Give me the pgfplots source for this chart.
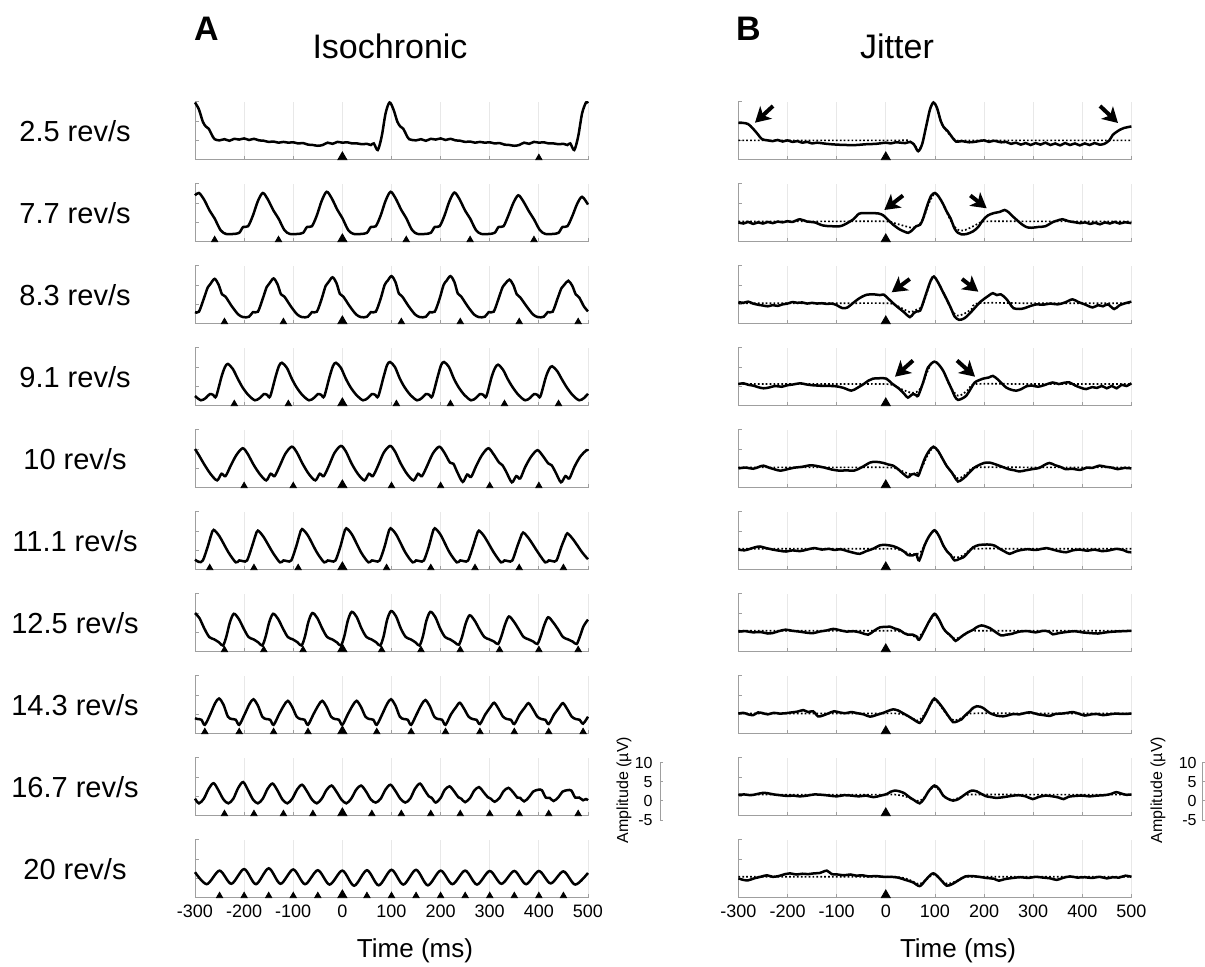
\documentclass[border=0pt]{standalone}
\usepackage{fontspec}
\setmainfont{Liberation Sans}
\usepackage{pgfplots}
\pgfplotsset{compat=1.18}
\usetikzlibrary{arrows.meta}

\pgfplotsset{
  panel/.style={
    scale only axis, width=196.5pt, height=29pt, anchor=north west,
    xmin=-300, xmax=500, ymin=-5, ymax=10,
    axis lines=left, axis line style={-, draw=gray!75, line width=0.5pt},
    xtick={-300,-200,...,500}, ytick={-5,0,5,10},
    yticklabels={},
    tick align=inside, major tick length=1.8pt,
    major tick style={draw=gray!75, line width=0.4pt},
    xmajorgrids, major grid style={draw=gray!18, line width=0.4pt},
    /pgf/number format/assume math mode=true,
    xticklabel style={font=\fontsize{9}{10}\selectfont},
    clip=false,
  },
  nolab/.style={xticklabels={}},
  wave/.style={black, line width=1.25pt, smooth, no markers},
  model/.style={black, line width=0.85pt, dash pattern=on 0.85pt off 1.1pt, smooth, no markers},
  stim/.style={only marks, mark=triangle*, mark size=1.8pt, black},
  stimbig/.style={only marks, mark=triangle*, mark size=2.6pt, black},
}

\begin{document}
\begin{tikzpicture}
\useasboundingbox (0,0) rectangle (602.5pt,-483.5pt);

% ---------------- column A: isochronic ----------------
\begin{axis}[panel, nolab, at={(97.5pt,-50.85pt)}]
\addplot[wave] coordinates {
(-300,9.8) (-292,8.0) (-284,4.8) (-278,3.6) (-272,3.0) (-266,1.5) (-260,0.3) (-250,0.0) (-240,0.3) (-230,-0.1)
(-220,0.4) (-210,0.2) (-200,0.5) (-190,0.1) (-180,0.4) (-170,0.0) (-160,-0.1) (-150,-0.4) (-140,-0.3) (-130,-0.6)
(-120,-0.4) (-110,-0.6) (-100,-0.5) (-90,-0.8) (-80,-0.7) (-70,-1.1) (-60,-1.2) (-50,-1.4) (-40,-1.2) (-30,-0.6)
(-20,-0.9) (-10,-0.4) (0,-0.6) (10,-0.5) (20,-0.8) (30,-0.8) (40,-1.0) (50,-0.9) (58,-1.2) (64,-0.8) (72,-2.5)
(80,1.0) (88,7.0) (96,9.8) (104,8.0) (112,4.8) (118,3.6) (124,3.0) (130,1.5) (136,0.3) (150,0.0) (160,0.3)
(170,-0.1) (180,0.4) (190,0.2) (200,0.5) (210,0.1) (220,0.4) (230,0.0) (240,-0.1) (250,-0.4) (260,-0.3)
(270,-0.6) (280,-0.4) (290,-0.6) (300,-0.5) (310,-0.8) (320,-0.7) (330,-1.1) (340,-1.2) (350,-1.4) (360,-1.2)
(370,-0.6) (380,-0.9) (390,-0.4) (400,-0.6) (410,-0.5) (420,-0.8) (430,-0.8) (440,-1.0) (450,-0.9) (458,-1.2)
(464,-0.8) (472,-2.5) (480,1.0) (488,7.0) (496,9.8) (500,9.6)};
\addplot[stimbig] coordinates {(0,-4.33)};
\addplot[stim] coordinates {(400,-4.53)};
\end{axis}

\begin{axis}[panel, nolab, at={(97.5pt,-91.85pt)}]
\addplot[wave] coordinates {
(-300,7.0) (-292,7.6) (-282,6.0) (-270,3.0) (-260,1.0) (-248,-2.0) (-237,-3.0) (-222,-3.0) (-210,-2.7) (-202,-1.2) (-192,-1.0) (-182,1.8) (-172,5.5)
(-162,7.6) (-152,6.0) (-140,3.0) (-130,1.0) (-118,-2.0) (-107,-3.0) (-92,-3.0) (-80,-2.7) (-72,-1.2) (-62,-1.0) (-52,1.8) (-42,5.6)
(-32,7.9) (-22,6.3) (-10,3.2) (0,1.1) (12,-2.0) (23,-3.0) (38,-3.0) (50,-2.7) (58,-1.2) (68,-1.0) (78,1.8) (88,5.6)
(98,7.9) (108,6.3) (120,3.2) (130,1.1) (142,-2.0) (153,-3.0) (168,-3.0) (180,-2.7) (188,-1.2) (198,-1.0) (208,1.8) (218,5.5)
(228,7.7) (238,6.1) (250,3.0) (260,1.0) (272,-2.0) (283,-3.0) (298,-3.0) (310,-2.7) (318,-1.2) (328,-1.0) (338,1.8) (348,5.0)
(358,7.0) (368,5.5) (380,2.8) (390,0.8) (402,-2.0) (413,-3.0) (428,-3.0) (440,-2.7) (448,-1.2) (458,-1.0) (468,1.6) (478,4.8)
(488,6.6) (500,4.6)};
\addplot[stimbig] coordinates {(0,-4.33)};
\addplot[stim] coordinates {(-260,-4.53) (-130,-4.53) (130,-4.53) (260,-4.53) (390,-4.53)};
\end{axis}

\begin{axis}[panel, nolab, at={(97.5pt,-132.85pt)}]
\addplot[wave] coordinates {
(-300,-2.0) (-292,-1.9) (-282,1.5) (-274,4.4) (-268,5.4)
(-260,6.6) (-252,5.1) (-245,2.6) (-238,2.0) (-225,-0.5) (-212,-2.6) (-202,-3.3) (-190,-3.2) (-182,-2.0) (-172,-1.9) (-162,1.5) (-154,4.5) (-148,5.5)
(-140,6.7) (-132,5.2) (-125,2.6) (-118,2.0) (-105,-0.5) (-92,-2.6) (-82,-3.3) (-70,-3.2) (-62,-2.0) (-52,-1.9) (-42,1.5) (-34,4.8) (-28,5.8)
(-20,7.0) (-12,5.5) (-5,2.7) (2,2.0) (15,-0.5) (28,-2.6) (38,-3.3) (50,-3.2) (58,-2.0) (68,-1.9) (78,1.5) (86,5.0) (92,6.1)
(100,7.3) (108,5.8) (115,2.8) (122,2.0) (135,-0.5) (148,-2.6) (158,-3.3) (170,-3.2) (178,-2.0) (188,-1.9) (198,1.5) (206,5.0) (212,6.1)
(220,7.3) (228,5.8) (235,2.8) (242,2.0) (255,-0.5) (268,-2.6) (278,-3.3) (290,-3.2) (298,-2.0) (308,-1.9) (318,1.5) (326,4.4) (332,5.4)
(340,6.4) (348,5.0) (355,2.6) (362,1.8) (375,-0.5) (388,-2.6) (398,-3.3) (410,-3.2) (418,-2.0) (428,-1.9) (438,1.5) (446,4.2) (452,5.1)
(460,6.1) (468,4.8) (475,2.6) (482,1.8) (492,-0.6) (500,-1.8)};
\addplot[stimbig] coordinates {(0,-4.33)};
\addplot[stim] coordinates {(-240,-4.53) (-120,-4.53) (120,-4.53) (240,-4.53) (360,-4.53) (480,-4.53)};
\end{axis}

\begin{axis}[panel, nolab, at={(97.5pt,-173.85pt)}]
\addplot[wave] coordinates {
(-300,-2.5) (-288,-3.6) (-278,-3.0) (-270,-2.0) (-263,-2.2) (-257,-2.6) (-246,2.5) (-239,5.0)
(-233,5.8) (-223,4.5) (-213,2.0) (-203,-0.3) (-191,-2.3) (-178,-3.6) (-168,-3.0) (-160,-2.0) (-153,-2.2) (-147,-2.6) (-136,2.5) (-129,5.3)
(-123,6.1) (-113,4.8) (-103,2.0) (-93,-0.3) (-81,-2.3) (-68,-3.6) (-58,-3.0) (-50,-2.0) (-43,-2.2) (-37,-2.6) (-26,2.5) (-19,5.3)
(-13,6.1) (-3,4.8) (7,2.0) (17,-0.3) (29,-2.3) (42,-3.6) (52,-3.0) (60,-2.0) (67,-2.2) (73,-2.6) (84,2.5) (91,5.5)
(97,6.3) (107,5.0) (117,2.0) (127,-0.3) (139,-2.3) (152,-3.6) (162,-3.0) (170,-2.0) (177,-2.2) (183,-2.6) (194,2.5) (201,5.5)
(207,6.3) (217,5.0) (227,2.0) (237,-0.3) (249,-2.3) (262,-3.6) (272,-3.0) (280,-2.0) (287,-2.2) (293,-2.6) (304,2.5) (311,4.8)
(317,5.6) (327,4.3) (337,1.8) (347,-0.3) (359,-2.3) (372,-3.6) (382,-3.0) (390,-2.0) (397,-2.2) (403,-2.6) (414,2.3) (421,4.5)
(427,5.2) (437,4.0) (447,1.8) (457,-0.3) (469,-2.3) (482,-3.6) (492,-3.0) (500,-1.9)};
\addplot[stimbig] coordinates {(0,-4.33)};
\addplot[stim] coordinates {(-220,-4.53) (-110,-4.53) (110,-4.53) (220,-4.53) (330,-4.53) (440,-4.53)};
\end{axis}

\begin{axis}[panel, nolab, at={(97.5pt,-214.85pt)}]
\addplot[wave] coordinates {
(-300,5.0) (-293,3.6) (-281,1.0) (-268,-1.5) (-255,-3.1) (-246,-1.4) (-238,-2.0) (-228,0.5) (-216,3.4)
(-203,5.2) (-193,3.8) (-181,1.0) (-168,-1.5) (-155,-3.1) (-146,-1.4) (-138,-2.0) (-128,0.5) (-116,3.8)
(-103,5.6) (-93,4.2) (-81,1.2) (-68,-1.5) (-55,-3.1) (-46,-1.4) (-38,-2.0) (-28,0.5) (-16,4.0)
(-3,5.8) (7,4.4) (19,1.2) (32,-1.5) (45,-3.1) (54,-1.4) (62,-2.0) (72,0.5) (84,4.0)
(97,5.8) (107,4.4) (119,1.2) (132,-1.5) (145,-3.1) (154,-1.4) (162,-2.0) (172,0.5) (184,3.8)
(197,5.6) (207,4.2) (219,1.5) (226,1.2) (234,-1.0) (245,-3.5) (254,-1.6) (262,-2.2) (272,0.5) (284,3.4)
(297,5.2) (307,3.8) (319,1.5) (326,0.8) (334,-1.0) (345,-3.6) (354,-2.0) (362,-2.6) (372,0.3) (384,3.0)
(397,4.7) (407,3.4) (419,1.3) (426,0.8) (434,-1.0) (445,-3.6) (454,-2.0) (462,-2.6) (472,0.3) (484,3.0)
(497,4.7) (500,4.5)};
\addplot[stimbig] coordinates {(0,-4.33)};
\addplot[stim] coordinates {(-200,-4.53) (-100,-4.53) (100,-4.53) (200,-4.53) (300,-4.53) (400,-4.53)};
\end{axis}

\begin{axis}[panel, nolab, at={(97.5pt,-255.85pt)}]
\addplot[wave] coordinates {
(-300,-2.4) (-292,-3.0) (-284,-2.6) (-274,1.0) (-267,4.0)
(-262,5.3) (-250,3.6) (-232,-0.5) (-217,-3.1) (-210,-2.6) (-202,-2.8) (-194,-2.6) (-184,1.0) (-177,3.8)
(-172,5.1) (-160,3.4) (-142,-0.5) (-127,-3.1) (-120,-2.6) (-112,-2.8) (-104,-2.6) (-94,1.0) (-87,4.1)
(-82,5.5) (-70,3.8) (-52,-0.5) (-37,-3.1) (-30,-2.6) (-22,-2.8) (-14,-2.6) (-4,1.0) (3,4.3)
(8,5.7) (20,4.0) (38,-0.5) (53,-3.1) (60,-2.6) (68,-2.8) (76,-2.6) (86,1.0) (93,4.3)
(98,5.7) (110,4.0) (128,-0.5) (143,-3.1) (150,-2.6) (158,-2.8) (166,-2.6) (176,1.0) (183,4.3)
(188,5.7) (200,4.0) (218,-0.5) (233,-3.1) (240,-2.6) (248,-2.8) (256,-2.6) (266,1.0) (273,3.8)
(278,5.1) (290,3.4) (308,-0.5) (323,-3.1) (330,-2.6) (338,-2.8) (346,-2.6) (356,1.0) (363,3.4)
(368,4.6) (380,3.0) (398,-0.5) (413,-3.1) (420,-2.6) (428,-2.8) (436,-2.6) (446,1.0) (453,3.2)
(458,4.4) (470,2.8) (488,-0.5) (500,-2.3)};
\addplot[stimbig] coordinates {(0,-4.33)};
\addplot[stim] coordinates {(-270,-4.53) (-180,-4.53) (-90,-4.53) (90,-4.53) (180,-4.53) (270,-4.53) (360,-4.53) (450,-4.53)};
\end{axis}

\begin{axis}[panel, nolab, at={(97.5pt,-296.85pt)}]
\addplot[wave] coordinates {
(-300,5.0) (-291,3.7) (-281,1.0) (-271,-1.2) (-261,-1.8) (-251,-2.6) (-243,-3.4) (-236,-1.0) (-229,2.6)
(-221,4.8) (-211,3.5) (-201,1.0) (-191,-1.2) (-181,-1.8) (-171,-2.6) (-163,-3.4) (-156,-1.0) (-149,2.6)
(-141,4.8) (-131,3.5) (-121,1.0) (-111,-1.2) (-101,-1.8) (-91,-2.6) (-83,-3.4) (-76,-1.0) (-69,2.8)
(-61,5.0) (-51,3.7) (-41,1.0) (-31,-1.2) (-21,-1.8) (-11,-2.6) (-3,-3.4) (4,-1.0) (11,3.0)
(19,5.3) (29,4.0) (39,1.0) (49,-1.2) (59,-1.8) (69,-2.6) (77,-3.4) (84,-1.0) (91,3.2)
(99,5.5) (109,4.2) (119,1.0) (129,-1.2) (139,-1.8) (149,-2.6) (157,-3.4) (164,-1.0) (171,3.0)
(179,5.3) (189,4.0) (199,1.0) (209,-1.2) (219,-1.8) (229,-2.6) (237,-3.2) (244,-1.0) (251,2.3)
(259,4.4) (269,3.1) (279,0.8) (289,-1.2) (299,-1.8) (309,-2.4) (317,-3.0) (324,-0.9) (331,2.0)
(339,4.1) (349,2.8) (359,0.8) (369,-1.2) (379,-1.8) (389,-2.4) (397,-3.0) (404,-0.9) (411,1.9)
(419,3.9) (429,2.6) (439,0.8) (449,-1.2) (459,-1.8) (469,-2.4) (477,-3.0) (484,-0.9) (491,1.6)
(500,3.3)};
\addplot[stimbig] coordinates {(0,-4.33)};
\addplot[stim] coordinates {(-240,-4.53) (-160,-4.53) (-80,-4.53) (80,-4.53) (160,-4.53) (240,-4.53) (320,-4.53) (400,-4.53) (480,-4.53)};
\end{axis}

\begin{axis}[panel, nolab, at={(97.5pt,-337.85pt)}]
\addplot[wave] coordinates {
(-300,-1.0) (-295,-1.2) (-287,-1.4) (-280,-2.7) (-269,0.0) (-259,2.9)
(-251,4.1) (-242,2.5) (-233,-0.6) (-225,-1.2) (-217,-1.4) (-210,-2.7) (-199,0.0) (-189,2.7)
(-181,3.9) (-172,2.3) (-163,-0.6) (-155,-1.2) (-147,-1.4) (-140,-2.7) (-129,0.0) (-119,2.3)
(-111,3.5) (-102,1.9) (-93,-0.6) (-85,-1.2) (-77,-1.4) (-70,-2.7) (-59,0.0) (-49,2.3)
(-41,3.5) (-32,1.9) (-23,-0.6) (-15,-1.2) (-7,-1.4) (0,-2.7) (11,0.0) (21,2.3)
(29,3.5) (38,1.9) (47,-0.6) (55,-1.2) (63,-1.4) (70,-2.7) (81,0.0) (91,2.7)
(99,3.9) (108,2.3) (117,-0.6) (125,-1.2) (133,-1.4) (140,-2.7) (151,0.0) (161,2.5)
(169,3.7) (178,2.1) (187,-0.6) (195,-1.2) (203,-1.4) (210,-2.7) (221,0.0) (231,1.8)
(239,3.0) (248,1.4) (257,-0.6) (265,-1.2) (273,-1.4) (280,-2.5) (291,0.0) (301,1.8)
(309,3.0) (318,1.4) (327,-0.6) (335,-1.2) (343,-1.4) (350,-2.5) (361,0.0) (371,1.7)
(379,2.9) (388,1.3) (397,-0.6) (405,-1.2) (413,-1.4) (420,-2.5) (431,0.0) (441,1.7)
(449,2.9) (458,1.3) (467,-0.6) (475,-1.2) (483,-1.4) (490,-2.4) (500,-0.6)};
\addplot[stimbig] coordinates {(0,-4.33)};
\addplot[stim] coordinates {(-280,-4.53) (-210,-4.53) (-140,-4.53) (-70,-4.53) (70,-4.53) (140,-4.53) (210,-4.53) (280,-4.53) (350,-4.53) (420,-4.53) (490,-4.53)};
\end{axis}

\begin{axis}[panel, nolab, at={(97.5pt,-378.85pt)}]
\addplot[wave] coordinates {
(-300,-0.6) (-292,-1.8) (-282,-0.6) (-272,2.0)
(-262,3.4) (-252,1.5) (-242,-0.8) (-232,-1.8) (-222,-0.6) (-212,2.2)
(-202,3.7) (-192,1.6) (-182,-0.8) (-172,-1.8) (-162,-0.6) (-152,2.0)
(-142,3.3) (-132,1.5) (-122,-0.8) (-112,-1.8) (-102,-0.6) (-92,1.8)
(-82,3.0) (-72,1.3) (-62,-0.8) (-52,-1.8) (-42,-0.6) (-32,1.7)
(-22,2.8) (-12,1.2) (-2,-0.8) (8,-1.8) (18,-0.6) (28,1.7)
(38,2.8) (48,1.3) (58,-0.8) (68,-1.6) (78,-0.6) (88,1.8)
(98,3.0) (108,1.4) (118,-0.6) (128,-1.6) (138,-0.6) (148,2.0)
(158,3.3) (168,1.5) (176,0.0) (182,-0.4) (190,-1.6) (200,-0.4) (208,1.6)
(218,2.6) (228,1.2) (236,-0.2) (242,-0.6) (250,-1.5) (260,-0.4) (268,1.4)
(278,2.4) (288,1.0) (296,-0.2) (302,-0.6) (310,-1.4) (320,-0.4) (328,1.3)
(338,2.2) (348,1.0) (356,-0.3) (362,-0.4) (370,-1.3) (380,-0.2) (388,1.2)
(398,1.7) (406,1.6) (414,-0.3) (422,-0.4) (430,-1.2) (440,-0.2) (448,1.2)
(458,1.6) (466,1.5) (474,-0.3) (482,-0.3) (490,-1.0) (496,-0.7) (500,-1.0)};
\addplot[stimbig] coordinates {(0,-4.33)};
\addplot[stim] coordinates {(-240,-4.53) (-180,-4.53) (-120,-4.53) (-60,-4.53) (60,-4.53) (120,-4.53) (180,-4.53) (240,-4.53) (300,-4.53) (360,-4.53) (420,-4.53) (480,-4.53)};
\end{axis}

\begin{axis}[panel, at={(97.5pt,-419.85pt)}]
\addplot[wave] coordinates {
(-300,1.6) (-276,-1.5) (-250,2.0) (-226,-1.4) (-200,2.4) (-176,-1.5) (-150,2.6) (-126,-1.4) (-100,2.3) (-76,-1.5)
(-50,2.1) (-26,-1.6) (0,2.0) (24,-1.9) (50,2.1) (74,-1.8) (100,2.2) (124,-1.6) (150,2.2) (174,-1.8) (200,2.0)
(224,-1.5) (250,2.0) (274,-1.6) (300,1.9) (324,-1.4) (350,1.9) (374,-1.5) (400,1.9) (424,-1.3) (450,1.8)
(474,-1.6) (500,1.4)};
\addplot[stimbig] coordinates {(0,-4.33)};
\addplot[stim] coordinates {(-250,-4.53) (-200,-4.53) (-150,-4.53) (-100,-4.53) (-50,-4.53) (50,-4.53) (100,-4.53) (150,-4.53) (200,-4.53) (250,-4.53) (300,-4.53) (350,-4.53) (400,-4.53) (450,-4.53)};
\end{axis}

% ---------------- column B: jitter ----------------
\begin{axis}[panel, nolab, at={(369.2pt,-50.85pt)}]
\addplot[wave] coordinates {
(-300,4.5) (-290,4.5) (-280,4.2) (-270,3.0) (-260,1.5) (-252,0.3) (-240,0.0) (-230,-0.2) (-220,0.1) (-210,-0.3)
(-200,0.0) (-190,-0.4) (-180,-0.2) (-170,-0.6) (-160,-0.4) (-150,-0.8) (-140,-0.6) (-120,-0.9) (-100,-1.1) (-80,-1.2)
(-60,-1.2) (-40,-1.0) (-20,-0.9) (0,-0.6) (10,-0.8) (20,-0.5) (30,-0.6) (40,-0.7) (50,-0.4) (58,-1.2) (66,-2.8)
(74,-1.0) (82,3.5) (90,8.0) (97,9.8) (104,8.5) (112,5.0) (118,3.4) (126,2.4) (134,1.0) (143,-0.3) (155,-0.2)
(170,-0.5) (185,-0.3) (200,0.0) (210,-0.4) (220,-0.1) (235,-0.5) (245,-0.4) (255,-0.9) (265,-0.6) (275,-1.1)
(285,-0.7) (295,-1.2) (305,-0.7) (315,-1.1) (325,-0.6) (335,-1.2) (345,-0.8) (355,-1.3) (365,-0.7) (375,-1.2)
(385,-0.8) (395,-1.3) (405,-0.8) (415,-1.2) (425,-0.7) (435,-1.1) (445,-0.9) (455,0.0) (462,1.4) (470,2.2)
(476,2.7) (485,3.2) (492,3.4) (500,3.6)};
\addplot[model] coordinates {(-300,0) (-200,0) (-100,0) (0,0) (30,0) (45,0) (58,-1.0) (66,-2.6) (74,-0.9) (82,3.4)
(90,7.9) (97,9.7) (104,8.4) (112,4.9) (120,3.0) (130,1.5) (143,0) (160,0) (300,0) (500,0)};
\addplot[stimbig] coordinates {(0,-4.33)};
\end{axis}

\begin{axis}[panel, nolab, at={(369.2pt,-91.85pt)}]
\addplot[wave] coordinates {
(-300,0.0) (-290,-0.3) (-280,0.1) (-270,-0.4) (-260,0.0) (-250,-0.3) (-240,0.1) (-230,-0.2) (-220,0.2) (-210,0.0)
(-200,0.3) (-190,0.1) (-175,0.8) (-160,0.2) (-145,0.0) (-128,-0.8) (-110,-1.0) (-90,-0.9) (-67,0.7) (-55,2.2)
(-45,2.4) (-30,2.4) (-15,2.3) (-5,1.8) (5,0.6) (15,-0.6) (28,-1.8) (38,-2.4) (46,-2.7) (54,-2.0) (62,-1.0)
(70,-0.6) (76,1.0) (84,4.2) (92,6.8) (100,7.6) (108,6.6) (116,4.9) (124,2.8) (132,1.0) (140,-1.6) (147,-2.7)
(154,-3.1) (165,-3.0) (178,-2.3) (188,-1.2) (198,0.6) (208,1.8) (220,2.4) (232,2.7) (242,3.2) (250,2.6)
(258,1.6) (266,0.7) (276,-0.4) (286,-1.2) (296,-1.4) (310,-1.2) (325,-1.0) (339,0.0) (350,0.5) (360,0.8)
(372,0.3) (386,0.0) (396,-0.2) (406,0.0) (416,-0.4) (426,-0.1) (436,-0.5) (446,0.0) (456,-0.3) (466,0.1)
(476,-0.3) (486,0.0) (500,-0.2)};
\addplot[model] coordinates {(-300,0.25) (-200,0.25) (-100,0.25) (0,0.25) (20,-0.3) (40,-1.0) (55,-1.4) (68,-0.6)
(78,1.5) (88,5.0) (100,7.5) (110,6.3) (120,3.8) (132,0.5) (145,-1.8) (158,-2.1) (175,-1.2) (190,-0.2) (205,0.25)
(300,0.25) (500,0.25)};
\addplot[stimbig] coordinates {(0,-4.33)};
\end{axis}

\begin{axis}[panel, nolab, at={(369.2pt,-132.85pt)}]
\addplot[wave] coordinates {
(-300,0.6) (-290,0.4) (-280,0.7) (-270,0.2) (-260,-0.1) (-250,-0.3) (-240,-0.5) (-230,-0.2) (-220,-0.4) (-210,0.0)
(-200,0.2) (-190,0.6) (-180,0.4) (-170,0.5) (-160,0.2) (-150,0.4) (-140,0.2) (-130,0.3) (-120,0.1) (-110,0.2)
(-100,-0.2) (-88,-1.0) (-78,-0.8) (-68,0.2) (-58,1.2) (-48,2.0) (-38,2.5) (-25,2.6) (-12,2.4) (-4,2.5) (5,1.5)
(15,0.3) (25,-0.8) (35,-1.8) (49,-3.3) (56,-2.4) (63,-1.8) (70,-1.6) (77,0.8) (84,3.5) (92,6.3) (98,7.2)
(106,5.8) (116,3.3) (124,1.3) (132,-0.8) (140,-3.1) (149,-4.0) (160,-3.6) (172,-2.2) (182,-0.8) (192,0.6)
(200,1.4) (210,2.3) (218,2.9) (226,2.4) (234,2.6) (244,1.6) (252,0.3) (260,-1.0) (272,-1.2) (282,-1.0)
(295,-0.4) (307,0.0) (320,-0.1) (335,0.2) (350,0.0) (365,0.5) (380,1.3) (392,0.6) (405,0.0) (421,-0.8)
(432,-0.2) (442,-0.5) (452,0.0) (465,-1.2) (475,-0.3) (485,0.2) (500,0.7)};
\addplot[model] coordinates {(-300,0.3) (-200,0.3) (-100,0.3) (0,0.3) (15,0.0) (30,-0.8) (49,-2.0) (62,-1.4) (72,-0.8)
(80,1.5) (90,5.5) (98,7.2) (106,5.8) (116,3.3) (126,0.6) (136,-1.8) (146,-2.9) (160,-2.4) (175,-1.2) (190,0.3)
(300,0.3) (500,0.3)};
\addplot[stimbig] coordinates {(0,-4.33)};
\end{axis}

\begin{axis}[panel, nolab, at={(369.2pt,-173.85pt)}]
\addplot[wave] coordinates {
(-300,0.6) (-290,0.8) (-280,0.4) (-270,0.2) (-260,-0.2) (-249,-0.5) (-238,-0.3) (-225,0.1) (-212,-0.1) (-200,0.3)
(-188,0.5) (-174,0.8) (-162,0.5) (-150,0.3) (-138,0.2) (-126,0.1) (-112,0.1) (-100,0.0) (-86,-0.4) (-70,-1.1)
(-58,-0.4) (-45,0.6) (-35,1.5) (-26,2.0) (-12,2.1) (1,2.0) (12,0.8) (28,-0.7) (38,-2.0) (45,-2.9) (55,-2.0)
(62,-2.3) (66,-2.4) (76,1.0) (86,4.9) (99,6.4) (108,5.6) (117,4.0) (126,1.5) (134,-0.7) (141,-2.7) (147,-3.5)
(156,-3.1) (164,-2.4) (172,-0.8) (181,1.0) (190,1.6) (198,2.0) (210,2.3) (218,2.7) (228,1.8) (236,0.8)
(245,-0.3) (256,-0.9) (266,-1.1) (276,-0.7) (286,0.0) (298,0.2) (310,-0.1) (322,0.3) (340,1.0) (352,0.6)
(362,0.9) (374,1.0) (386,0.2) (398,-0.4) (408,-0.7) (420,-0.2) (430,-0.4) (440,0.1) (450,-0.5) (460,0.1)
(470,-0.5) (480,0.4) (490,0.1) (500,0.8)};
\addplot[model] coordinates {(-300,0.6) (-200,0.6) (-100,0.6) (0,0.6) (20,0.0) (35,-0.9) (50,-1.6) (62,-1.5) (72,-0.3)
(82,3.0) (92,5.8) (99,6.4) (108,5.6) (117,4.0) (127,1.0) (137,-1.2) (147,-2.4) (158,-1.9) (170,-0.6) (185,0.6)
(300,0.6) (500,0.6)};
\addplot[stimbig] coordinates {(0,-4.33)};
\end{axis}

\begin{axis}[panel, nolab, at={(369.2pt,-214.85pt)}]
\addplot[wave] coordinates {
(-300,0.0) (-285,0.2) (-270,-0.1) (-258,0.4) (-249,0.7) (-238,0.2) (-225,-0.3) (-214,-0.6) (-200,-0.2) (-185,0.2)
(-170,0.4) (-154,0.8) (-140,0.6) (-125,0.2) (-110,-0.3) (-94,-0.6) (-80,-0.5) (-65,-0.6) (-50,0.2) (-32,1.5)
(-20,1.7) (-5,1.4) (5,1.0) (15,0.7) (25,-0.2) (32,-1.0) (45,-2.3) (52,-1.6) (58,-1.4) (66,-1.9) (72,0.0)
(79,2.4) (88,4.5) (97,5.6) (106,4.6) (116,2.4) (124,0.6) (134,-1.0) (140,-2.2) (147,-3.4) (156,-2.8) (164,-1.9)
(172,-0.8) (181,0.25) (192,1.0) (200,1.4) (211,1.5) (222,1.1) (235,0.5) (250,-0.2) (262,-0.5) (272,-0.8)
(285,-0.5) (298,-0.2) (312,0.1) (322,0.8) (333,1.4) (345,0.8) (355,0.4) (366,-0.2) (380,-0.1) (395,-0.4)
(410,0.2) (420,0.1) (435,0.7) (448,0.4) (460,0.2) (472,-0.2) (485,0.1) (500,0.0)};
\addplot[model] coordinates {(-300,0.25) (-200,0.25) (-100,0.25) (0,0.25) (20,0.0) (35,-0.8) (50,-1.5) (62,-1.3)
(72,-0.2) (82,2.6) (92,4.8) (97,5.4) (106,4.5) (116,2.3) (126,0.3) (137,-1.5) (147,-2.6) (158,-2.0) (170,-0.8)
(185,0.25) (300,0.25) (500,0.25)};
\addplot[stimbig] coordinates {(0,-4.33)};
\end{axis}

\begin{axis}[panel, nolab, at={(369.2pt,-255.85pt)}]
\addplot[wave] coordinates {
(-300,0.2) (-288,0.0) (-276,0.4) (-266,0.8) (-256,1.0) (-244,0.6) (-230,0.2) (-216,-0.1) (-203,-0.3) (-190,0.0)
(-175,-0.2) (-160,0.2) (-145,0.6) (-130,0.2) (-116,0.4) (-104,0.1) (-92,0.3) (-78,-0.2) (-66,-0.6) (-53,-0.9)
(-40,-0.2) (-26,0.4) (-12,1.3) (0,1.4) (15,1.1) (28,0.4) (38,-0.4) (45,-1.2) (55,-1.3) (62,-1.0) (68,-2.6)
(79,1.3) (88,3.6) (99,5.2) (108,3.8) (117,1.3) (125,-0.3) (132,-1.2) (140,-2.6) (150,-2.2) (158,-1.8) (168,-0.5)
(178,0.8) (190,1.4) (200,1.5) (212,1.5) (222,1.2) (232,0.4) (242,-0.3) (252,-0.9) (262,-0.4) (272,0.0)
(288,0.3) (305,0.1) (318,0.4) (327,0.6) (340,0.2) (352,-0.2) (367,-0.5) (380,0.0) (395,0.2) (410,-0.1)
(425,0.2) (440,-0.2) (455,0.0) (470,0.4) (485,0.0) (492,-0.4) (500,-0.5)};
\addplot[model] coordinates {(-300,0.4) (-200,0.4) (-100,0.4) (0,0.4) (20,0.4) (35,-0.2) (50,-0.9) (62,-1.0) (72,-0.3)
(82,2.2) (92,4.3) (99,5.0) (108,3.8) (118,1.0) (128,-0.6) (140,-1.8) (152,-1.6) (166,-0.6) (180,0.4) (300,0.4)
(500,0.4)};
\addplot[stimbig] coordinates {(0,-4.33)};
\end{axis}

\begin{axis}[panel, nolab, at={(369.2pt,-296.85pt)}]
\addplot[wave] coordinates {
(-300,0.2) (-285,0.3) (-270,0.0) (-255,0.1) (-240,-0.3) (-231,-0.2) (-218,0.3) (-204,0.7) (-190,0.4) (-176,0.2)
(-160,-0.1) (-148,-0.2) (-135,0.2) (-120,0.5) (-107,0.9) (-95,0.6) (-80,0.2) (-65,0.3) (-50,-0.1) (-36,-0.6)
(-24,0.4) (-12,1.3) (0,1.4) (8,1.5) (18,1.0) (28,0.6) (36,-0.1) (45,-0.6) (55,-0.6) (62,-1.0) (68,-1.9) (79,0.6)
(88,2.8) (99,4.8) (108,3.4) (117,1.1) (124,0.0) (130,-0.6) (136,-1.4) (142,-2.2) (150,-1.5) (157,-0.8) (167,0.0)
(178,0.7) (186,1.4) (195,1.8) (204,1.5) (212,1.1) (222,0.2) (235,-0.8) (245,-0.6) (256,-0.4) (272,0.2) (290,0.3)
(305,0.0) (320,0.4) (332,0.2) (340,-0.5) (352,-0.2) (368,0.1) (385,0.3) (400,0.0) (418,-0.2) (432,-0.3) (448,0.0)
(465,0.2) (482,0.3) (500,0.4)};
\addplot[model] coordinates {(-300,0.4) (-200,0.4) (-100,0.4) (0,0.4) (20,0.4) (35,0.0) (50,-0.7) (64,-1.2) (74,-0.3)
(84,1.8) (94,3.8) (99,4.4) (108,3.3) (118,0.9) (128,-0.6) (140,-1.6) (152,-1.2) (166,-0.2) (180,0.4) (300,0.4)
(500,0.4)};
\addplot[stimbig] coordinates {(0,-4.33)};
\end{axis}

\begin{axis}[panel, nolab, at={(369.2pt,-337.85pt)}]
\addplot[wave] coordinates {
(-300,0.2) (-290,0.4) (-280,0.0) (-270,-0.2) (-260,0.5) (-250,0.3) (-240,0.0) (-228,0.4) (-216,0.2) (-204,0.3)
(-192,0.5) (-180,0.7) (-168,1.1) (-158,0.6) (-148,0.8) (-138,-0.5) (-128,-0.3) (-116,0.3) (-105,0.8) (-94,0.5)
(-82,0.3) (-70,0.6) (-58,0.3) (-45,0.0) (-32,-0.6) (-20,-0.2) (-5,0.4) (5,0.9) (15,1.3) (25,1.0) (35,0.3)
(45,-0.4) (55,-1.2) (69,-2.2) (76,-1.0) (83,0.6) (92,2.9) (99,4.1) (108,3.0) (117,1.5) (124,0.2) (130,-0.9)
(137,-2.0) (146,-1.8) (154,-1.3) (162,-0.2) (171,0.8) (178,1.7) (185,2.1) (192,2.0) (200,1.5) (211,0.4)
(225,-0.3) (239,-0.5) (250,-0.2) (260,0.1) (272,0.0) (285,0.4) (296,0.5) (310,0.0) (322,-0.2) (334,-0.4)
(345,0.1) (358,0.2) (370,0.4) (381,0.6) (392,0.2) (405,-0.3) (418,0.0) (430,0.1) (442,-0.2) (455,0.0)
(468,0.2) (482,0.1) (500,0.2)};
\addplot[model] coordinates {(-300,0.25) (-200,0.25) (-100,0.25) (0,0.25) (20,0.25) (35,0.0) (50,-0.7) (65,-1.6)
(75,-0.6) (85,1.3) (94,3.1) (99,3.7) (108,2.8) (118,1.0) (128,-0.6) (138,-1.5) (150,-1.2) (165,-0.2) (180,0.25)
(300,0.25) (500,0.25)};
\addplot[stimbig] coordinates {(0,-4.33)};
\end{axis}

\begin{axis}[panel, nolab, at={(369.2pt,-378.85pt)}]
\addplot[wave] coordinates {
(-300,0.4) (-288,0.5) (-275,0.3) (-262,0.6) (-250,0.9) (-240,0.8) (-228,0.5) (-215,0.3) (-200,0.1) (-188,0.2)
(-175,0.0) (-160,0.2) (-145,0.5) (-130,0.4) (-115,0.2) (-100,0.0) (-85,0.3) (-70,0.2) (-55,0.0) (-40,0.2)
(-25,-0.2) (-10,0.2) (2,0.6) (10,1.2) (18,1.5) (28,1.3) (38,0.8) (48,-0.2) (58,-1.0) (69,-1.8) (78,-0.6)
(88,1.5) (99,2.8) (108,2.0) (117,0.2) (126,-0.6) (137,-1.1) (148,-0.7) (158,0.2) (167,1.0) (175,1.5) (185,1.3)
(195,0.6) (205,0.0) (215,-0.2) (225,-0.4) (240,-0.2) (255,0.1) (270,0.3) (285,0.0) (299,-0.7) (310,-0.2)
(325,0.2) (340,0.0) (352,-0.3) (362,-0.7) (372,-0.1) (385,0.1) (400,0.2) (415,0.0) (430,0.2) (445,0.3)
(458,0.6) (469,1.1) (480,0.7) (490,0.4) (500,0.5)};
\addplot[model] coordinates {(-300,0.45) (-200,0.45) (-100,0.45) (0,0.45) (20,0.45) (40,0.0) (55,-0.8) (68,-1.2)
(78,-0.3) (90,1.6) (99,2.5) (108,1.7) (118,0.1) (130,-0.8) (140,-0.8) (155,0.0) (170,0.45) (300,0.45) (500,0.45)};
\addplot[stimbig] coordinates {(0,-4.33)};
\end{axis}

\begin{axis}[panel, at={(369.2pt,-419.85pt)}]
\addplot[wave] coordinates {
(-300,0.0) (-290,-0.4) (-280,-0.5) (-268,0.0) (-255,0.4) (-242,0.8) (-230,0.4) (-218,0.6) (-205,1.1) (-195,1.3)
(-182,1.0) (-170,1.2) (-158,1.1) (-146,1.3) (-134,1.4) (-120,2.0) (-110,1.1) (-98,1.0) (-85,0.8) (-72,1.0)
(-60,0.7) (-48,0.8) (-35,0.5) (-20,0.6) (-5,0.4) (10,0.4) (25,0.2) (40,-0.4) (55,-1.0) (69,-2.0) (80,-0.6)
(90,0.8) (97,1.3) (105,0.6) (115,-0.8) (124,-1.9) (135,-1.5) (148,-0.5) (162,0.5) (175,0.6) (190,0.4)
(205,0.1) (220,-0.1) (230,-0.6) (242,-0.2) (258,0.1) (275,0.3) (290,0.1) (305,0.4) (320,0.2) (335,0.0)
(348,-0.4) (360,0.1) (375,0.5) (390,0.2) (405,0.3) (420,0.1) (435,0.4) (450,0.0) (462,0.3) (475,0.2)
(488,0.7) (500,0.4)};
\addplot[model] coordinates {(-300,0.4) (-200,0.4) (-100,0.4) (0,0.4) (20,0.4) (40,0.0) (55,-0.8) (68,-1.5) (80,-0.6)
(90,0.5) (97,1.0) (105,0.4) (115,-0.7) (125,-1.4) (138,-1.0) (152,-0.2) (168,0.4) (300,0.4) (500,0.4)};
\addplot[stimbig] coordinates {(0,-4.33)};
\end{axis}

% ---------------- annotations (pixel grid of the reference) ----------------
\begin{scope}[x=0.5pt, y=-0.5pt]
\node[font=\fontsize{17}{20}\selectfont\bfseries] at (206.5,28.5) {A};
\node[font=\fontsize{17}{20}\selectfont\bfseries] at (748.5,28.5) {B};
\node[font=\fontsize{17}{20}\selectfont] at (390,46) {Isochronic};
\node[font=\fontsize{17}{20}\selectfont] at (897,46) {Jitter};

\foreach \lab [count=\i from 0] in {2.5 rev/s, 7.7 rev/s, 8.3 rev/s, 9.1 rev/s, 10 rev/s,
  11.1 rev/s, 12.5 rev/s, 14.3 rev/s, 16.7 rev/s, 20 rev/s}
  \node[font=\fontsize{14.5}{17}\selectfont] at (75,{130.7+82*\i}) {\lab};

\node[font=\fontsize{13}{15}\selectfont] at (415,951) {Time (ms)};
\node[font=\fontsize{13}{15}\selectfont] at (958,951) {Time (ms)};

% amplitude scale bars
\foreach \bx/\tx/\nx in {660/624/653, 1202/1158/1197} {
  \draw[gray!75, line width=0.5pt] (\bx+3,762.7) -- (\bx,762.7) -- (\bx,820) -- (\bx+3,820);
  \draw[gray!75, line width=0.5pt] (\bx,781.7) -- (\bx+2.5,781.7) (\bx,800.7) -- (\bx+2.5,800.7);
  \node[rotate=90, font=\fontsize{8}{9}\selectfont] at (\tx,790) {Amplitude (µV)};
  \node[anchor=east, inner sep=0, font=\fontsize{8}{9}\selectfont] at (\nx,762.7) {10};
  \node[anchor=east, inner sep=0, font=\fontsize{8}{9}\selectfont] at (\nx,781.7) {5};
  \node[anchor=east, inner sep=0, font=\fontsize{8}{9}\selectfont] at (\nx,800.7) {0};
  \node[anchor=east, inner sep=0, font=\fontsize{8}{9}\selectfont] at (\nx,820) {-5};
}

% arrows pointing at the extra responses in the jitter condition
\foreach \ax/\ay/\bx/\by in {773/106/755/122.7, 1100/106/1118/123,
  903/195.5/884.3/210, 970.3/195.5/986.7/208.3,
  909.7/279/891.7/292.3, 962/279/978.3/291.7,
  913/360.5/895/376.7, 957/360.5/975/376.7}
  \draw[line width=2pt, -{Stealth[length=7.5pt, width=8.5pt, inset=2pt]}] (\ax,\ay) -- (\bx,\by);
\end{scope}
\end{tikzpicture}
\end{document}
